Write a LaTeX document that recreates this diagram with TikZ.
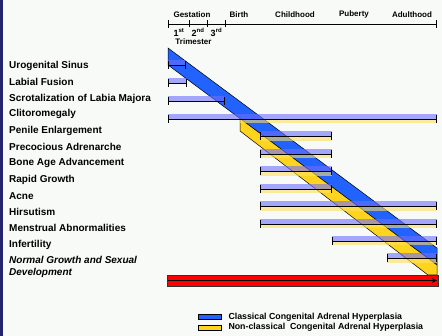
\documentclass[tikz,border=0pt]{standalone}
\usepackage{fontspec}
\setmainfont{Liberation Sans}
\usetikzlibrary{arrows.meta}
\definecolor{bgpaper}{HTML}{F7FAF7}
\definecolor{navyedge}{HTML}{24246E}
\definecolor{classblue}{HTML}{2262FF}
\definecolor{nonclassyellow}{HTML}{FFD41E}
\definecolor{barblue}{HTML}{6E6EFF}
\definecolor{baryellow}{HTML}{FFE060}
\definecolor{onsetred}{HTML}{FF0000}

\begin{document}
\begin{tikzpicture}[x=1pt,y=-1pt,
  rowlabel/.style={anchor=base west,inner sep=0pt,font=\fontsize{10}{12.3}\selectfont\bfseries},
  agelabel/.style={inner sep=0pt,font=\fontsize{8}{9}\selectfont\bfseries},
  keylabel/.style={anchor=west,inner sep=0pt,font=\fontsize{8.8}{10}\selectfont\bfseries},
  blueband/.style={fill=classblue,draw=black,line width=0.5pt},
  yellowband/.style={fill=nonclassyellow,draw=black,line width=0.5pt},
  bluebar/.style={fill=barblue,fill opacity=0.6},
  yellowbar/.style={fill=baryellow,fill opacity=0.6},
  rangeline/.style={draw=black,line width=0.6pt,{Bar[width=8pt]}-{Bar[width=8pt]}},
  ]
\useasboundingbox (0,0) rectangle (442,336);
\fill[bgpaper] (0,0) rectangle (442,336);
\fill[navyedge] (0,0) rectangle (2.6,336);

% diagonal bands
\filldraw[blueband] (168,48) -- (437,248) -- (437,265) -- (168,65) -- cycle;
\filldraw[yellowband] (240,118.5) -- (437,265) -- (437,275) -- (428,275) -- (240,131) -- cycle;

% age axis
\draw[rangeline] (168,24) -- (437,24);
\draw[line width=0.6pt] (189,20.5) -- (189,27);
\draw[line width=0.6pt] (207,20.5) -- (207,27);
\draw[line width=0.6pt] (225,20.5) -- (225,27);
\node[agelabel] (gest) at (192,14.7) {Gestation};
\node[agelabel] (birth) at (239,14.7) {Birth};
\node[agelabel] (child) at (295,14.7) {Childhood};
\node[agelabel] (pub) at (354,14.7) {Puberty};
\node[agelabel] (adult) at (412,14.7) {Adulthood};
\node[agelabel,font=\fontsize{9}{10}\selectfont\bfseries] (tri1) at (179,32.5) {1\textsuperscript{st}};
\node[agelabel,font=\fontsize{9}{10}\selectfont\bfseries] (tri2) at (198,32.5) {2\textsuperscript{nd}};
\node[agelabel,font=\fontsize{9}{10}\selectfont\bfseries] (tri3) at (216.5,32.5) {3\textsuperscript{rd}};
\node[agelabel] (trim) at (193.5,42) {Trimester};

% bars
\fill[bluebar] (168,60) rectangle (186,65);
\draw[rangeline] (168,65) -- (186,65);
\fill[bluebar] (168,78) rectangle (187,83);
\draw[rangeline] (168,83) -- (187,83);
\fill[bluebar] (168,96) rectangle (225,101);
\draw[rangeline] (168,101) -- (225,101);
\fill[bluebar] (168,114) rectangle (437,119);
\fill[yellowbar] (240,119) rectangle (437,123.5);
\draw[rangeline] (168,119) -- (437,119);
\fill[bluebar] (260,131.5) rectangle (332,136.5);
\fill[yellowbar] (260,136.5) rectangle (332,141);
\draw[rangeline] (260,136.5) -- (332,136.5);
\fill[bluebar] (260,149) rectangle (332,154);
\fill[yellowbar] (260,154) rectangle (332,158.5);
\draw[rangeline] (260,154) -- (332,154);
\fill[bluebar] (260,166.5) rectangle (332,171.5);
\fill[yellowbar] (260,171.5) rectangle (332,176);
\draw[rangeline] (260,171.5) -- (332,171.5);
\fill[bluebar] (260,184) rectangle (332,189);
\fill[yellowbar] (260,189) rectangle (332,193.5);
\draw[rangeline] (260,189) -- (332,189);
\fill[bluebar] (260,201.5) rectangle (437,206.5);
\fill[yellowbar] (260,206.5) rectangle (437,211);
\draw[rangeline] (260,206.5) -- (437,206.5);
\fill[bluebar] (260,219) rectangle (437,224);
\fill[yellowbar] (260,224) rectangle (437,228.5);
\draw[rangeline] (260,224) -- (437,224);
\fill[bluebar] (332,236) rectangle (437,241);
\fill[yellowbar] (332,241) rectangle (437,245.5);
\draw[rangeline] (332,241) -- (437,241);
\fill[bluebar] (387,253.5) rectangle (437,258.5);
\fill[yellowbar] (387,258.5) rectangle (437,263);
\draw[rangeline] (387,258.5) -- (437,258.5);

% normal development
\filldraw[fill=onsetred,draw=black!80,line width=0.6pt] (167,275) rectangle (438,286);
\draw[line width=0.5pt,-{Stealth[length=5pt,width=4.5pt]}] (167.5,280.5) -- (437,280.5);

% symptoms
\node[rowlabel] (uro) at (9,68.2) {Urogenital Sinus};
\node[rowlabel] (lab) at (9,85.2) {Labial Fusion};
\node[rowlabel] (scr) at (9,101.2) {Scrotalization of Labia Majora};
\node[rowlabel] (cli) at (9,116.8) {Clitoromegaly};
\node[rowlabel] (pen) at (9,133.5) {Penile Enlargement};
\node[rowlabel] (pre) at (9,150.2) {Precocious Adrenarche};
\node[rowlabel] (bone) at (9,165.8) {Bone Age Advancement};
\node[rowlabel] (rap) at (9,182.8) {Rapid Growth};
\node[rowlabel] (acne) at (9,199.2) {Acne};
\node[rowlabel] (hir) at (9,215.8) {Hirsutism};
\node[rowlabel] (men) at (9,231.5) {Menstrual Abnormalities};
\node[rowlabel] (inf) at (9,247.5) {Infertility};
\node[rowlabel,align=left,font=\fontsize{10}{12.3}\selectfont\bfseries\itshape] (norm) at (9,275.8) {Normal Growth and Sexual\\Development};

% key
\filldraw[fill=classblue,draw=black,line width=0.5pt] (198.5,314.3) rectangle (221.5,319.5);
\filldraw[fill=nonclassyellow,draw=black,line width=0.5pt] (198.5,325) rectangle (221.5,330.3);
\node[keylabel] (keyc) at (228.3,316.8) {Classical Congenital Adrenal Hyperplasia};
\node[keylabel] (keyn) at (228.3,327.7) {Non-classical\ \ Congenital Adrenal Hyperplasia};
\end{tikzpicture}
\end{document}
